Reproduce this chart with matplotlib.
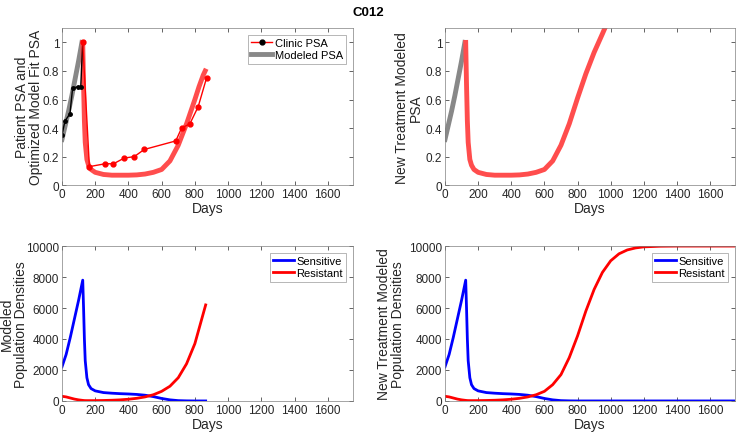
import matplotlib.pyplot as plt

plt.rcParams['font.family'] = ['Liberation Sans', 'DejaVu Sans']

# --- datos ---
# PSA clinico (primer ciclo en negro, resto en rojo)
clin_dias_neg = [0, 18, 48, 64, 98, 113, 125]
clin_psa_neg = [0.35, 0.45, 0.50, 0.68, 0.69, 0.69, 1.00]
clin_dias_roj = [125, 165, 260, 310, 375, 435, 495, 685, 720, 770, 820, 870]
clin_psa_roj = [1.00, 0.13, 0.15, 0.15, 0.19, 0.20, 0.25, 0.31, 0.40, 0.43, 0.55, 0.75]

# PSA modelado: fase gris (sin tratamiento) y fase roja
mod_dias_gris = [0, 20, 40, 60, 80, 100, 120]
mod_psa_gris = [0.32, 0.42, 0.52, 0.63, 0.75, 0.87, 1.00]
mod_dias_roj = [125, 130, 135, 140, 150, 160, 175, 200, 250, 300, 350, 400, 450,
                500, 550, 600, 650, 700, 750, 800, 825, 850, 862]
mod_psa_roj = [1.00, 0.70, 0.45, 0.30, 0.18, 0.14, 0.11, 0.09, 0.075, 0.07, 0.07,
               0.07, 0.072, 0.078, 0.09, 0.11, 0.17, 0.28, 0.43, 0.60, 0.69, 0.77, 0.80]

# PSA con nuevo tratamiento
nt_dias_roj = [125, 130, 135, 140, 150, 160, 175, 200, 250, 300, 350, 400, 450,
               500, 550, 600, 650, 700, 750, 800, 850, 900, 950, 965]
nt_psa_roj = [1.00, 0.70, 0.45, 0.30, 0.18, 0.14, 0.11, 0.09, 0.075, 0.07, 0.07,
              0.07, 0.072, 0.078, 0.09, 0.11, 0.17, 0.28, 0.43, 0.61, 0.78, 0.93, 1.06, 1.10]

# Poblaciones (modelo ajustado, hasta dia 865)
pob_dias = [0, 25, 50, 75, 100, 125, 130, 135, 140, 150, 160, 175, 200, 250, 300,
            350, 400, 450, 500, 550, 600, 650, 700, 750, 800, 865]
sensibles = [2200, 3000, 4100, 5300, 6500, 7800, 6000, 4000, 2600, 1500, 1050, 800,
             650, 540, 500, 470, 450, 420, 370, 280, 160, 70, 20, 5, 0, 0]
resistentes = [300, 260, 190, 120, 70, 35, 30, 25, 22, 20, 20, 20, 22, 30, 45,
               70, 110, 170, 260, 400, 620, 950, 1500, 2400, 3700, 6200]

# Poblaciones con nuevo tratamiento (hasta dia 1750)
nt_pob_dias = [0, 25, 50, 75, 100, 125, 130, 135, 140, 150, 160, 175, 200, 250, 300,
               350, 400, 450, 500, 550, 600, 650, 700, 750, 800, 850, 900, 950, 1000,
               1050, 1100, 1150, 1200, 1300, 1400, 1750]
nt_sensibles = [2200, 3000, 4100, 5300, 6500, 7800, 6000, 4000, 2600, 1500, 1050, 800,
                650, 540, 500, 470, 450, 420, 370, 280, 160, 70, 20, 5, 0, 0, 0, 0, 0,
                0, 0, 0, 0, 0, 0, 0]
nt_resistentes = [300, 260, 190, 120, 70, 35, 30, 25, 22, 20, 20, 20, 22, 30, 45,
                  70, 110, 170, 260, 400, 620, 1050, 1700, 2800, 4200, 5800, 7200,
                  8300, 9050, 9500, 9750, 9880, 9950, 9990, 10000, 10000]

xticks = [0, 200, 400, 600, 800, 1000, 1200, 1400, 1600]
gris_ejes = '#262626'


def estilo(ax, xlab_y):
    ax.set_xlim(0, 1750)
    ax.set_xticks(xticks)
    ax.tick_params(direction='in', top=True, right=True, length=3, width=0.5,
                   labelsize=8.5, colors=gris_ejes, pad=2)
    for s in ax.spines.values():
        s.set_linewidth(0.5)
        s.set_color('#808080')
    ax.set_xlabel('Days', fontsize=10, color=gris_ejes, labelpad=1)


def leyenda(ax, *args):
    lg = ax.legend(*args, loc='upper right', fontsize=8, frameon=True, fancybox=False,
                   borderpad=0.3, handlelength=1.9, handletextpad=0.2,
                   labelspacing=0.2, borderaxespad=0.6)
    lg.get_frame().set_edgecolor('#808080')
    lg.get_frame().set_linewidth(0.5)


fig = plt.figure(figsize=(7.36, 4.35), dpi=100)
ax1 = fig.add_axes([0.0842, 0.572, 0.395, 0.361])
ax2 = fig.add_axes([0.6046, 0.572, 0.394, 0.361])
ax3 = fig.add_axes([0.0842, 0.076, 0.395, 0.356])
ax4 = fig.add_axes([0.6046, 0.076, 0.394, 0.356])

# --- PSA paciente y ajuste ---
ax1.plot(mod_dias_gris, mod_psa_gris, color='#888888', lw=3.5)
ax1.plot(mod_dias_roj, mod_psa_roj, color='#ff4d4d', lw=3.5)
ax1.plot(clin_dias_neg, clin_psa_neg, color='black', lw=1, marker='o', ms=2.5)
ax1.plot(clin_dias_roj, clin_psa_roj, color='red', lw=1, marker='o', ms=3.5)
h1, = ax1.plot([], [], color='red', lw=1, marker='o', ms=3.5, mfc='black', mec='black')
h2, = ax1.plot([], [], color='#888888', lw=3.5)
ax1.set_ylim(0, 1.1)
ax1.set_yticks([0, 0.2, 0.4, 0.6, 0.8, 1])
ax1.set_yticklabels(['0', '0.2', '0.4', '0.6', '0.8', '1'])
ax1.set_ylabel('Patient PSA and\nOptimized Model Fit PSA', fontsize=10, color=gris_ejes,
               linespacing=1.0)
ax1.yaxis.set_label_coords(-0.065, 0.5)
estilo(ax1, 0)
leyenda(ax1, [h1, h2], ['Clinic PSA', 'Modeled PSA'])

# --- PSA nuevo tratamiento ---
ax2.plot(mod_dias_gris, mod_psa_gris, color='#888888', lw=3.5)
ax2.plot(nt_dias_roj, nt_psa_roj, color='#ff4d4d', lw=3.5)
ax2.set_ylim(0, 1.1)
ax2.set_yticks([0, 0.2, 0.4, 0.6, 0.8, 1])
ax2.set_yticklabels(['0', '0.2', '0.4', '0.6', '0.8', '1'])
ax2.set_ylabel('New Treatment Modeled\nPSA', fontsize=10, color=gris_ejes,
               linespacing=1.0)
ax2.yaxis.set_label_coords(-0.076, 0.5)
estilo(ax2, 0)

# --- poblaciones ---
for ax, d, s, r, lab, xl in [(ax3, pob_dias, sensibles, resistentes,
                              'Modeled\nPopulation Densities', -0.117),
                             (ax4, nt_pob_dias, nt_sensibles, nt_resistentes,
                              'New Treatment Modeled\nPopulation Densities', -0.138)]:
    ax.plot(d, s, color='#0000ff', lw=2, label='Sensitive')
    ax.plot(d, r, color='#ff0000', lw=2, label='Resistant')
    ax.set_ylim(0, 10000)
    ax.set_yticks([0, 2000, 4000, 6000, 8000, 10000])
    ax.set_ylabel(lab, fontsize=10, color=gris_ejes, linespacing=1.0)
    ax.yaxis.set_label_coords(xl, 0.5)
    estilo(ax, 0)
    leyenda(ax)

fig.text(0.5, 0.985, 'C012', ha='center', va='top', fontsize=9.5, fontweight='bold')

plt.savefig('out.png', dpi=100)
